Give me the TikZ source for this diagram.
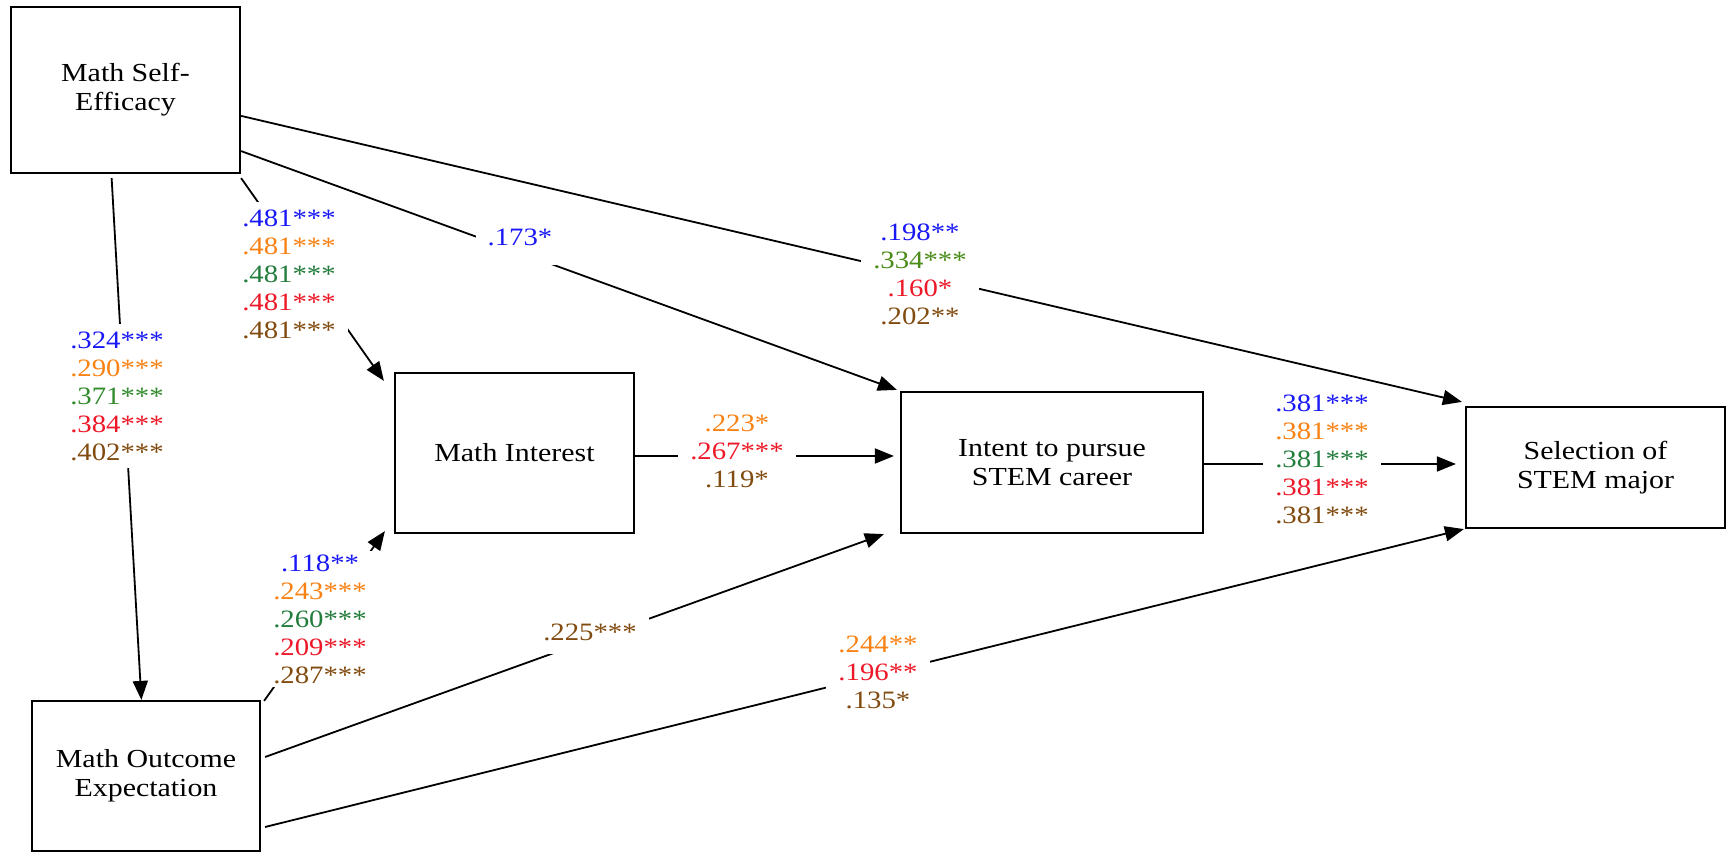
\documentclass[tikz,border=0pt]{standalone}
\usepackage{fontspec}
\setmainfont{Liberation Serif}[FakeStretch=1.15]
\usetikzlibrary{arrows.meta,calc}
\definecolor{cblue}{RGB}{25,25,245}
\definecolor{corange}{RGB}{250,130,20}
\definecolor{cgreen}{RGB}{35,125,60}
\definecolor{cgreenb}{RGB}{50,140,45}
\definecolor{colive}{RGB}{75,140,25}
\definecolor{cred}{RGB}{238,25,40}
\definecolor{cbrown}{RGB}{130,75,15}
\begin{document}
\begin{tikzpicture}[x=0.5pt,y=-0.5pt,
  box/.style={draw,line width=1.1pt,inner sep=0pt,align=center,
    font=\fontsize{13}{14.5}\selectfont},
  lab/.style={fill=white,inner xsep=6pt,inner ysep=4pt,align=center,
    font=\fontsize{12.5}{14}\selectfont},
  link/.style={line width=0.9pt,-{Triangle[length=9.5pt,width=7.5pt]}},
]
\useasboundingbox (0,0) rectangle (1728,854);

% constructs
\node[box,minimum width=114.5pt,minimum height=83pt] (mse) at (125.5,90) {Math Self-\\Efficacy};
\node[box,minimum width=119.5pt,minimum height=80pt] (mi) at (514.5,453) {Math Interest};
\node[box,minimum width=151pt,minimum height=70.5pt] (itp) at (1052,462.5) {Intent to pursue\\STEM career};
\node[box,minimum width=129.5pt,minimum height=60.5pt] (sel) at (1595.5,467.5) {Selection of\\STEM major};
\node[box,minimum width=114pt,minimum height=75pt] (moe) at (146,776) {Math Outcome\\Expectation};

% paths
\draw[link] ($(mse.south west)!0.44!(mse.south east)+(0,4)$) -- ($(moe.north west)!0.48!(moe.north east)$);
\draw[link] ($(mse.south east)+(0,4)$) -- ($(mi.north west)+(-10,9)$);
\draw[link] ($(mse.south east)+(0,-23)$) -- ($(itp.north west)+(-3,-1)$);
\draw[link] ($(mse.north east)+(0,110)$) -- ($(sel.north west)+(-3,-4)$);
\draw[link] ($(mi.east)+(0,3)$) -- ($(itp.west)+(-6,-6.5)$);
\draw[link] ($(moe.north east)+(3,1)$) -- ($(mi.south west)+(-9,-3)$);
\draw[link] ($(moe.east)+(4,-19)$) -- ($(itp.south west)+(-16,0)$);
\draw[link] ($(moe.east)+(4,51)$) -- ($(sel.south west)+(-1,0)$);
\draw[link] ($(itp.east)+(0,1.5)$) -- ($(sel.west)+(-9,-3.5)$);

% path coefficients
\node[lab] (c-se-oe) at (117,396) {\textcolor{cblue}{.324***}\\\textcolor{corange}{.290***}\\\textcolor{cgreenb}{.371***}\\\textcolor{cred}{.384***}\\\textcolor{cbrown}{.402***}};
\node[lab] (c-se-mi) at (289,274) {\textcolor{cblue}{.481***}\\\textcolor{corange}{.481***}\\\textcolor{cgreen}{.481***}\\\textcolor{cred}{.481***}\\\textcolor{cbrown}{.481***}};
\node[lab,inner ysep=10pt] (c-se-it) at (520,237) {\textcolor{cblue}{.173*}};
\node[lab] (c-se-sm) at (920,274) {\textcolor{cblue}{.198**}\\\textcolor{colive}{.334***}\\\textcolor{cred}{.160*}\\\textcolor{cbrown}{.202**}};
\node[lab] (c-mi-it) at (737,451) {\textcolor{corange}{.223*}\\\textcolor{cred}{.267***}\\\textcolor{cbrown}{.119*}};
\node[lab,inner ysep=2pt] (c-oe-mi) at (320,619) {\textcolor{cblue}{.118**}\\\textcolor{corange}{.243***}\\\textcolor{cgreen}{.260***}\\\textcolor{cred}{.209***}\\\textcolor{cbrown}{.287***}};
\node[lab,inner ysep=7pt] (c-oe-it) at (590,632) {\textcolor{cbrown}{.225***}};
\node[lab] (c-oe-sm) at (878,672) {\textcolor{corange}{.244**}\\\textcolor{cred}{.196**}\\\textcolor{cbrown}{.135*}};
\node[lab] (c-it-sm) at (1322,459) {\textcolor{cblue}{.381***}\\\textcolor{corange}{.381***}\\\textcolor{cgreen}{.381***}\\\textcolor{cred}{.381***}\\\textcolor{cbrown}{.381***}};
\end{tikzpicture}
\end{document}
